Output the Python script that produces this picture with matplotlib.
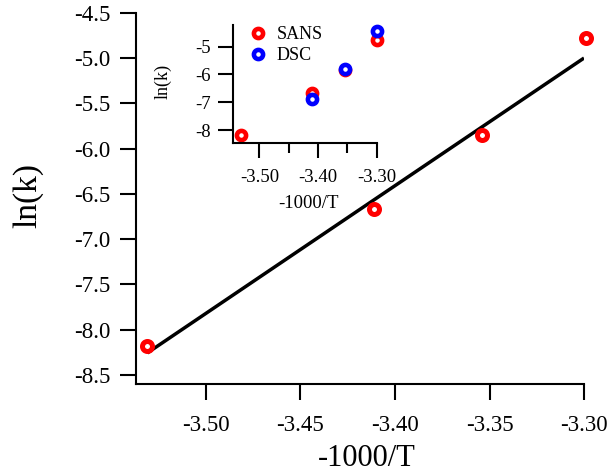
import matplotlib
matplotlib.use("Agg")
import matplotlib.pyplot as plt
import numpy as np

# data
x_sans = [-3.531, -3.411, -3.354, -3.299]
y_sans = [-8.18, -6.67, -5.85, -4.78]
x_dsc = [-3.410, -3.354, -3.299]
y_dsc = [-6.88, -5.80, -4.44]
fit_slope = 14.11
fit_x = [-3.531, -3.300]
fit_y0 = -8.257

xticks_main = [-3.50, -3.45, -3.40, -3.35, -3.30]
yticks_main = [-8.5, -8.0, -7.5, -7.0, -6.5, -6.0, -5.5, -5.0, -4.5]
xticks_in = [-3.50, -3.40, -3.30]
yticks_in = [-8, -7, -6, -5]

plt.rcParams['font.family'] = ['Liberation Serif', 'DejaVu Serif']

fig = plt.figure(figsize=(6.09, 4.73), dpi=100)

ax = fig.add_axes([0.2233, 0.1882, 0.7357, 0.7843])
fy = [fit_y0 + fit_slope * (x - fit_x[0]) for x in fit_x]
ax.plot(fit_x, fy, color='black', lw=2.5, solid_capstyle='butt')
ax.plot(x_sans, y_sans, 'o', ms=7.2, mfc='white', mec='red', mew=3.6, clip_on=False)
ax.set_xlim(-3.537, -3.300)
ax.set_ylim(-8.6, -4.5)
ax.set_xticks(xticks_main)
ax.set_xticklabels(["%.2f" % v for v in xticks_main])
ax.set_yticks(yticks_main)
ax.set_yticklabels(["%.1f" % v for v in yticks_main])
for s in ['top', 'right']:
    ax.spines[s].set_visible(False)
for s in ['left', 'bottom']:
    ax.spines[s].set_linewidth(1.5)
ax.tick_params(direction='out', length=11.5, width=1.5, labelsize=16.5)
ax.tick_params(axis='x', pad=10.5)
ax.tick_params(axis='y', pad=7)
ax.set_xlabel('-1000/T', fontsize=22)
ax.xaxis.set_label_coords(0.516, -0.202)
ax.xaxis.label.set_verticalalignment('center')
ax.set_ylabel('ln(k)', fontsize=24)
ax.yaxis.set_label_coords(-0.24, 0.509)
ax.yaxis.label.set_verticalalignment('center')

axi = fig.add_axes([0.3826, 0.6977, 0.236, 0.2495])
axi.plot(x_sans, y_sans, 'o', ms=6.6, mfc='white', mec='red', mew=3.3, label='SANS', clip_on=False)
axi.plot(x_dsc, y_dsc, 'o', ms=6.6, mfc='white', mec='blue', mew=3.3, label='DSC', clip_on=False)
axi.set_xlim(-3.545, -3.300)
axi.set_ylim(-8.46, -4.225)
axi.set_xticks(xticks_in)
axi.set_xticklabels(["%.2f" % v for v in xticks_in])
axi.set_xticks([-3.45, -3.35], minor=True)
axi.set_yticks(yticks_in)
axi.set_yticklabels(["%d" % v for v in yticks_in])
for s in ['top', 'right']:
    axi.spines[s].set_visible(False)
for s in ['left', 'bottom']:
    axi.spines[s].set_linewidth(1.5)
axi.tick_params(direction='out', length=10.5, width=1.5, labelsize=13.5)
axi.tick_params(axis='x', pad=8)
axi.tick_params(axis='y', pad=5.5)
axi.tick_params(which='minor', direction='out', length=7, width=1.5)
axi.set_xlabel('-1000/T', fontsize=13.5)
axi.xaxis.set_label_coords((308 - 233) / 143.7, -(204 - 143) / 118)
axi.xaxis.label.set_verticalalignment('center')
axi.set_ylabel('ln(k)', fontsize=13)
axi.yaxis.set_label_coords(-0.487, 0.525)
axi.yaxis.label.set_verticalalignment('center')
axi.legend(loc='upper left', bbox_to_anchor=(0.05, 1.05), frameon=False, fontsize=13,
           handletextpad=0.4, borderaxespad=0, labelspacing=0.2, handlelength=1.2)

fig.savefig('out.png', dpi=100)
